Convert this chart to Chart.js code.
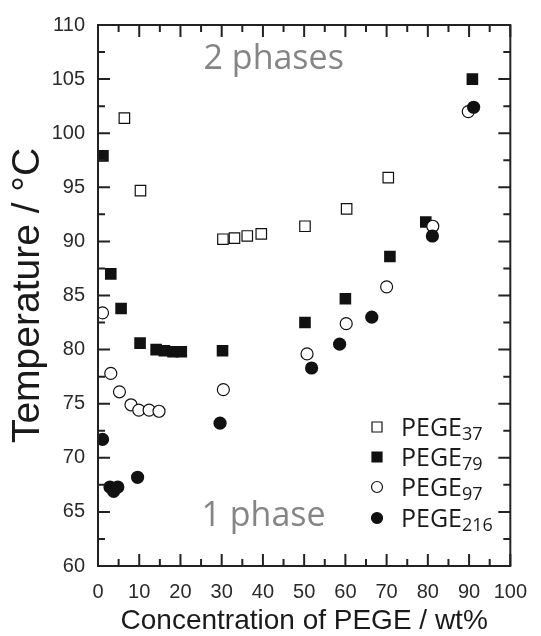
<!DOCTYPE html>
<html>
<head>
<meta charset="utf-8">
<script src="https://cdn.jsdelivr.net/npm/chart.js@4.4.1/dist/chart.umd.min.js"></script>
<style>
  html, body { margin: 0; padding: 0; background: #fff; }
  #wrap { width: 541px; height: 636px; }
</style>
</head>
<body>
<div id="wrap"><canvas id="phaseChart" width="541" height="636"></canvas></div>
<script>
// cloud points (wt% PEGE, temperature in degC) for each polymer length
const pege37X = [6.4, 10.3, 30.3, 33.1, 36.2, 39.6, 50.2, 60.3, 70.4];
const pege37Y = [101.4, 94.7, 90.2, 90.3, 90.5, 90.7, 91.4, 93.0, 95.9];

const pege79X = [1.2, 3.1, 5.6, 10.2, 14.1, 16.1, 18.2, 20.2, 30.2, 50.2, 60.0, 70.8, 79.5, 90.8];
const pege79Y = [97.9, 87.0, 83.8, 80.6, 80.0, 79.9, 79.8, 79.8, 79.9, 82.5, 84.7, 88.6, 91.8, 105.0];

const pege97X = [1.1, 3.1, 5.2, 8.0, 9.9, 12.4, 14.8, 30.4, 50.7, 60.2, 70.0, 81.2, 89.8];
const pege97Y = [83.4, 77.8, 76.1, 74.9, 74.4, 74.4, 74.3, 76.3, 79.6, 82.4, 85.8, 91.4, 102.0];

const pege216X = [1.1, 2.9, 3.8, 4.8, 9.6, 29.6, 51.8, 58.6, 66.4, 81.1, 91.1];
const pege216Y = [71.7, 67.3, 66.9, 67.3, 68.2, 73.2, 78.3, 80.5, 83.0, 90.5, 102.4];

const seriesNames = ['PEGE', 'PEGE', 'PEGE', 'PEGE'];
const seriesSubs = ['37', '79', '97', '216'];
const regionLabels = [
    { text: '2 phases', x: 25.6, y: 106.8 },
    { text: '1 phase', x: 25.1, y: 64.6 }
];

const X_MIN = 0, X_MAX = 100, X_STEP = 10;
const Y_MIN = 60, Y_MAX = 110, Y_STEP = 5;

const toPoints = (xs, ys) => xs.map((x, i) => ({ x: x, y: ys[i] }));

const LABEL_FONT = 'Open Sans';
const AXIS_FONT = 'Liberation Sans';

// inward tick marks on all four sides plus the top/right frame
const frameTicks = {
    id: 'frameTicks',
    afterDraw(chart) {
        const { ctx, chartArea: a } = chart;
        const xs = chart.scales.x, ys = chart.scales.y;
        ctx.save();
        ctx.strokeStyle = '#222';
        ctx.lineWidth = 2;
        ctx.strokeRect(a.left, a.top, a.right - a.left, a.bottom - a.top);
        ctx.beginPath();
        for (let v = X_MIN; v <= X_MAX; v += X_STEP / 2) {
            const px = xs.getPixelForValue(v);
            const len = v % X_STEP === 0 ? 12 : 7;
            ctx.moveTo(px, a.bottom); ctx.lineTo(px, a.bottom - len);
            ctx.moveTo(px, a.top); ctx.lineTo(px, a.top + len);
        }
        for (let v = Y_MIN; v <= Y_MAX; v += Y_STEP / 2) {
            const py = ys.getPixelForValue(v);
            const len = v % Y_STEP === 0 ? 12 : 7;
            ctx.moveTo(a.left, py); ctx.lineTo(a.left + len, py);
            ctx.moveTo(a.right, py); ctx.lineTo(a.right - len, py);
        }
        ctx.stroke();
        ctx.restore();
    }
};

// region captions and the legend with subscripted chain lengths
const captions = {
    id: 'captions',
    afterDraw(chart) {
        const { ctx } = chart;
        const xs = chart.scales.x, ys = chart.scales.y;
        ctx.save();
        ctx.fillStyle = '#858585';
        ctx.font = '34px "' + LABEL_FONT + '"';
        ctx.textBaseline = 'middle';
        ctx.textAlign = 'left';
        regionLabels.forEach(r => {
            ctx.fillText(r.text, xs.getPixelForValue(r.x), ys.getPixelForValue(r.y));
        });

        const symX = 377, textX = 401, rowY = [427, 457, 487, 518];
        chart.data.datasets.forEach((ds, i) => {
            const y = rowY[i];
            ctx.fillStyle = ds.backgroundColor;
            ctx.strokeStyle = '#111';
            ctx.lineWidth = 1.2;
            ctx.beginPath();
            if (ds.pointStyle === 'rect') {
                ctx.rect(symX - 5, y - 5, 10, 10);
            } else {
                ctx.arc(symX, y, 5.5, 0, Math.PI * 2);
            }
            ctx.fill();
            ctx.stroke();

            ctx.fillStyle = '#1a1a1a';
            ctx.textBaseline = 'alphabetic';
            ctx.font = '25px "' + LABEL_FONT + '"';
            const base = y + 9;
            ctx.fillText(seriesNames[i], textX, base);
            const w = ctx.measureText(seriesNames[i]).width;
            ctx.font = '18px "' + LABEL_FONT + '"';
            ctx.fillText(seriesSubs[i], textX + w, base + 4);
        });
        ctx.restore();
    }
};

function makeSet(label, xs, ys, style, filled, radius, order) {
    return {
        label: label,
        data: toPoints(xs, ys),
        pointStyle: style,
        pointRadius: radius,
        pointHoverRadius: radius,
        backgroundColor: filled ? '#111' : '#fff',
        borderColor: '#111',
        pointBorderWidth: filled ? 0 : 1.2,
        borderWidth: filled ? 0 : 1.2,
        order: order
    };
}

new Chart(document.getElementById('phaseChart'), {
    type: 'scatter',
    data: {
        datasets: [
            makeSet('PEGE37', pege37X, pege37Y, 'rect', false, 7.4, 3),
            makeSet('PEGE79', pege79X, pege79Y, 'rect', true, 8.2, 2),
            makeSet('PEGE97', pege97X, pege97Y, 'circle', false, 6, 1),
            makeSet('PEGE216', pege216X, pege216Y, 'circle', true, 6.6, 0)
        ]
    },
    options: {
        responsive: false,
        animation: false,
        layout: { padding: { top: 22, right: 20, left: 0, bottom: 0 } },
        plugins: {
            legend: { display: false },
            tooltip: { enabled: false }
        },
        scales: {
            x: {
                type: 'linear',
                min: X_MIN,
                max: X_MAX,
                afterFit: s => { s.height = 70; },
                border: { display: false },
                grid: { display: false, drawTicks: false },
                ticks: {
                    stepSize: X_STEP,
                    padding: 14,
                    color: '#2a2a2a',
                    font: { family: AXIS_FONT, size: 20 }
                },
                title: {
                    display: true,
                    text: 'Concentration of PEGE / wt%',
                    color: '#1a1a1a',
                    font: { family: AXIS_FONT, size: 28 },
                    padding: { top: 0, bottom: -2 }
                }
            },
            y: {
                type: 'linear',
                min: Y_MIN,
                max: Y_MAX,
                afterFit: s => { s.width = 98; },
                border: { display: false },
                grid: { display: false, drawTicks: false },
                ticks: {
                    stepSize: Y_STEP,
                    padding: 13,
                    color: '#2a2a2a',
                    font: { family: AXIS_FONT, size: 20 }
                },
                title: {
                    display: true,
                    text: 'Temperature / °C',
                    color: '#1a1a1a',
                    font: { family: AXIS_FONT, size: 39 },
                    padding: { top: 5, bottom: 0 }
                }
            }
        }
    },
    plugins: [frameTicks, captions]
});
</script>
</body>
</html>
